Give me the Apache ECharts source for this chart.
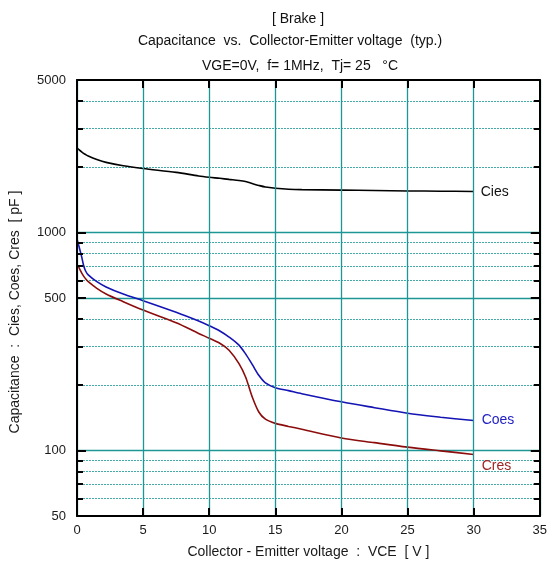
<!DOCTYPE html>
<html><head><meta charset="utf-8">
<script src="https://cdn.jsdelivr.net/npm/echarts@6/dist/echarts.min.js"></script>
<style>html,body{margin:0;padding:0;background:#fff}#c{width:550px;height:565px}</style>
</head><body><div id="c"></div>
<script>
// ---- data ----
const vce  = [0, 0.1, 0.35, 0.5, 0.65, 0.85, 1.5, 2.2, 3.5, 5, 7.5, 9.2, 10, 10.8, 11.5, 12.25, 12.75, 13.25, 13.75, 14.25, 15, 16, 17, 20, 22.5, 25, 27.5, 30];
const cies = [2440, 2410, 2340, 2305, 2275, 2240, 2160, 2095, 2020, 1962, 1885, 1815, 1790, 1770, 1750, 1730, 1710, 1675, 1642, 1615, 1595, 1578, 1571, 1563, 1556, 1549, 1545, 1540];
const coes = [930, 885, 774, 705, 665, 638, 594, 562, 521, 486, 430, 392, 373, 353, 331, 304, 277, 248, 221, 204, 194, 188, 182, 167, 157, 148, 142, 137];
const cres = [712, 698, 652, 630, 612, 594, 554, 522, 481, 440, 385, 344, 327, 310, 288, 250, 217, 176, 150, 139, 133, 128.8, 125, 114, 108.5, 103.5, 99.5, 95.8];
const seriesNames = ['Cies', 'Coes', 'Cres'];
const yLabelValues = [50, 100, 500, 1000, 5000];
const yMinorValues = [60, 70, 80, 90, 200, 300, 400, 600, 700, 800, 900, 2000, 3000, 4000];
const ySolidGrid = [100, 500, 1000];
const titleLines = ['[ Brake ]', 'Capacitance  vs.  Collector-Emitter voltage  (typ.)', 'VGE=0V,  f= 1MHz,  Tj= 25   °C'];
const xName = 'Collector - Emitter voltage  :  VCE  [ V ]';
const yName = 'Capacitance  :  Cies, Coes, Cres  [ pF ]';

const FF = '"Liberation Sans", Arial, sans-serif';
const TEAL = '#1f9696';
const TEAL_DOT = '#45aaaa';
const black2 = {color: '#000', width: 2};

const chart = echarts.init(document.getElementById('c'), null, {renderer: 'canvas'});

function logAxis(pos, opts) {
  return Object.assign({
    type: 'log', logBase: 10, min: 50, max: 5000, position: pos, z: 3,
    axisLine: {show: false, onZero: false},
    axisTick: {show: false},
    axisLabel: {show: false},
    splitLine: {show: false},
    minorTick: {show: false}, minorSplitLine: {show: false}
  }, opts);
}

const option = {
  animation: false,
  backgroundColor: '#fff',
  textStyle: {fontFamily: FF},
  grid: {left: 77, right: 8, top: 80, bottom: 49, containLabel: false},
  graphic: [
    {type: 'text', x: 298, y: 19, style: {text: titleLines[0], fill: '#111', fontSize: 14, fontFamily: FF, align: 'center', verticalAlign: 'middle'}},
    {type: 'text', x: 290, y: 41, style: {text: titleLines[1], fill: '#111', fontSize: 14, fontFamily: FF, align: 'center', verticalAlign: 'middle'}},
    {type: 'text', x: 300, y: 66, style: {text: titleLines[2], fill: '#111', fontSize: 14, fontFamily: FF, align: 'center', verticalAlign: 'middle'}}
  ],
  xAxis: [
    {type: 'value', min: 0, max: 35, interval: 5, position: 'bottom', z: 3,
     axisLine: {onZero: false, lineStyle: black2},
     axisTick: {inside: true, length: 8, lineStyle: black2},
     axisLabel: {color: '#1a1a1a', fontSize: 13, margin: 8, fontFamily: FF},
     splitLine: {show: true, lineStyle: {color: TEAL, width: 1.3}},
     name: xName, nameLocation: 'middle', nameGap: 29,
     nameTextStyle: {color: '#1a1a1a', fontSize: 14, fontFamily: FF}},
    {type: 'value', min: 0, max: 35, interval: 5, position: 'top', z: 3,
     axisLine: {onZero: false, lineStyle: black2},
     axisTick: {inside: true, length: 8, lineStyle: black2},
     axisLabel: {show: false}, splitLine: {show: false}}
  ],
  yAxis: [
    logAxis('left', {
      axisLine: {show: true, onZero: false, lineStyle: black2},
      axisTick: {show: true, inside: true, length: 9, customValues: yLabelValues, lineStyle: black2},
      axisLabel: {show: true, customValues: yLabelValues, color: '#1a1a1a', fontSize: 13, margin: 11, fontFamily: FF,
                  formatter: v => String(Math.round(v))},
      name: yName, nameLocation: 'middle', nameGap: 55, nameRotate: 90,
      nameTextStyle: {color: '#1a1a1a', fontSize: 14, fontFamily: FF, padding: [0, 28, 0, 0]}
    }),
    logAxis('left', {
      axisTick: {show: true, inside: true, length: 6, customValues: yMinorValues, lineStyle: black2}
    }),
    logAxis('right', {
      axisLine: {show: true, onZero: false, lineStyle: black2},
      axisTick: {show: true, inside: true, length: 9, customValues: yLabelValues, lineStyle: black2}
    }),
    logAxis('right', {
      axisTick: {show: true, inside: true, length: 6, customValues: yMinorValues, lineStyle: black2}
    })
  ],
  series: [
    {type: 'line', name: 'grid', data: [], silent: true, z: 1,
     markLine: {silent: true, symbol: 'none', z: 1, animation: false, label: {show: false},
       data: ySolidGrid.map(v => ({yAxis: v, lineStyle: {type: 'solid', color: TEAL, width: 1.3}}))
         .concat(yMinorValues.map(v => ({yAxis: v, lineStyle: {type: [2, 1], color: TEAL_DOT, width: 1}})))}},
    {type: 'line', name: seriesNames[0], data: vce.map((x, i) => [x, cies[i]]), showSymbol: false,
     smooth: 0.3, z: 2, lineStyle: {color: '#000', width: 1.6},
     endLabel: {show: true, formatter: seriesNames[0], color: '#111', fontSize: 14, fontFamily: FF, distance: 7, offset: [0, 1]}},
    {type: 'line', name: seriesNames[1], data: vce.map((x, i) => [x, coes[i]]), showSymbol: false,
     smooth: 0.3, z: 2, lineStyle: {color: '#1414b4', width: 1.6},
     endLabel: {show: true, formatter: seriesNames[1], color: '#2222c4', fontSize: 14, fontFamily: FF, distance: 8, offset: [0, 0]}},
    {type: 'line', name: seriesNames[2], data: vce.map((x, i) => [x, cres[i]]), showSymbol: false,
     smooth: 0.3, z: 2, lineStyle: {color: '#8c0c0c', width: 1.6},
     endLabel: {show: true, formatter: seriesNames[2], color: '#a02424', fontSize: 14, fontFamily: FF, distance: 8, offset: [0, 12]}}
  ]
};
chart.setOption(option);
</script></body></html>
